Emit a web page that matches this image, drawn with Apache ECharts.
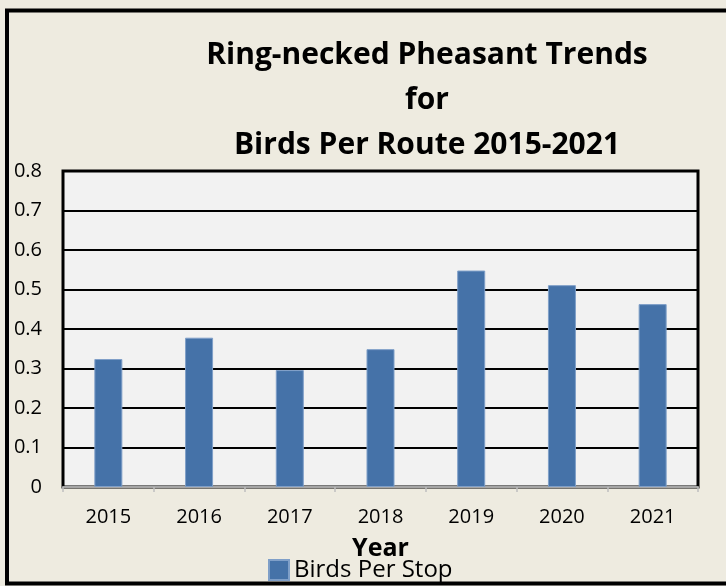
<!DOCTYPE html>
<html>
<head>
<meta charset="utf-8">
<script src="https://cdn.jsdelivr.net/npm/echarts@6/dist/echarts.min.js"></script>
<style>
  html, body { margin: 0; padding: 0; background: #eeebe0; }
  #chart { width: 726px; height: 586px; }
</style>
</head>
<body>
<div id="chart"></div>
<script>
// data
const years = ['2015', '2016', '2017', '2018', '2019', '2020', '2021'];
const birdsPerStop = [0.324, 0.378, 0.296, 0.349, 0.548, 0.511, 0.463];
const yTicks = [0, 0.1, 0.2, 0.3, 0.4, 0.5, 0.6, 0.7, 0.8];

const font = '"Open Sans", "Liberation Sans", sans-serif';

const myChart = echarts.init(document.getElementById('chart'));

const option = {
  backgroundColor: '#eeebe0',
  textStyle: { fontFamily: font },
  // outer frame
  graphic: [
    {
      type: 'rect',
      shape: { x: 7, y: 10.5, width: 740, height: 573 },
      style: { fill: 'none', stroke: '#000', lineWidth: 4 },
      silent: true
    }
  ],
  title: {
    text: 'Ring-necked Pheasant Trends\nfor\nBirds Per Route 2015-2021',
    left: 422,
    top: 28,
    textAlign: 'center',
    textStyle: {
      fontFamily: font,
      fontWeight: 'bold',
      fontSize: 30,
      lineHeight: 45,
      color: '#000'
    }
  },
  legend: {
    data: ['Birds Per Stop'],
    left: 263,
    top: 553,
    itemWidth: 20,
    itemHeight: 20,
    itemGap: 5,
    icon: 'rect',
    textStyle: { fontFamily: font, fontSize: 24, color: '#000' }
  },
  grid: {
    left: 63,
    right: 28,
    top: 171,
    bottom: 99,
    show: true,
    backgroundColor: '#f2f2f2',
    borderColor: '#000',
    borderWidth: 3
  },
  xAxis: {
    type: 'category',
    data: years,
    name: 'Year',
    nameLocation: 'middle',
    nameGap: 49,
    nameTextStyle: { fontFamily: font, fontWeight: 'bold', fontSize: 25, color: '#000' },
    axisLine: { lineStyle: { color: '#a6a6a6', width: 2 } },
    axisTick: { show: true, length: 5, lineStyle: { color: '#bfbfbf', width: 1.5 } },
    axisLabel: { fontFamily: font, fontSize: 20, color: '#000', margin: 20 }
  },
  yAxis: {
    type: 'value',
    min: 0,
    max: 0.8,
    interval: 0.1,
    axisLine: { show: false },
    axisTick: { show: false },
    splitLine: { lineStyle: { color: '#000', width: 2 } },
    axisLabel: {
      fontFamily: font,
      fontSize: 20,
      color: '#000',
      margin: 21,
      formatter: (v) => {
        const t = yTicks.find((x) => Math.abs(x - v) < 1e-9);
        return t === 0 ? '0' : String(+v.toFixed(1));
      }
    }
  },
  series: [
    {
      name: 'Birds Per Stop',
      type: 'bar',
      data: birdsPerStop,
      barWidth: 28,
      itemStyle: {
        color: '#4572a8',
        borderColor: '#7f9fc8',
        borderWidth: 1
      }
    }
  ]
};

myChart.setOption(option);

window.addEventListener('resize', () => {
  myChart.resize();
});
</script>
</body>
</html>
